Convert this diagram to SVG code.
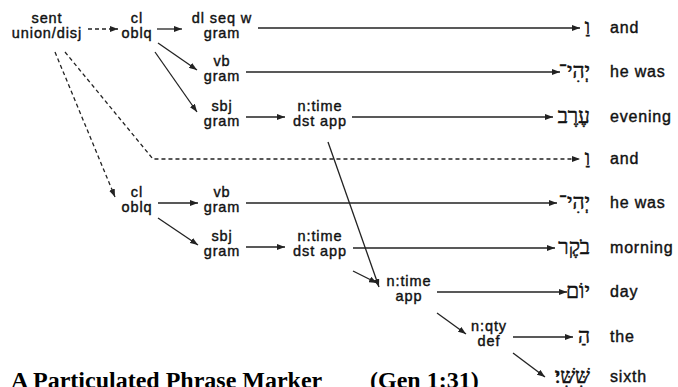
<svg xmlns="http://www.w3.org/2000/svg" width="678" height="387" viewBox="0 0 678 387">
<defs>
<marker id="ah" markerUnits="userSpaceOnUse" markerWidth="8" markerHeight="6" refX="8" refY="3" orient="auto">
<path d="M0,0 L8,3 L0,6 z" fill="#222"/>
</marker>
<style>
.n{font-family:"Liberation Sans",Arial,sans-serif;font-size:14.5px;letter-spacing:0.9px;fill:#111;stroke:#111;stroke-width:0.4px;text-anchor:middle}
.g{font-family:"Liberation Sans",Arial,sans-serif;font-size:16px;letter-spacing:0.8px;fill:#111;stroke:#111;stroke-width:0.4px}
.h{font-family:"Liberation Serif","DejaVu Serif",serif;font-size:21px;fill:#111;stroke:#111;stroke-width:0.5px;text-anchor:end}
.c{stroke:#222;stroke-width:1.3;fill:none;marker-end:url(#ah)}
.d{stroke-dasharray:4,3}
.cap{font-family:"Liberation Serif","Times New Roman",serif;font-size:24px;font-weight:bold;fill:#000}
</style>
</defs>
<rect width="678" height="387" fill="#fff"/>
<g id="connectors">
<path class="c d" d="M88,29 L118,29"/>
<path class="c d" d="M55,52 L115,197"/>
<path class="c d" d="M65,52 L153,159 L580,159"/>
<path class="c" d="M157,29 L182,29"/>
<path class="c" d="M158,43 L197,70"/>
<path class="c" d="M155,52 L197,112"/>
<path class="c" d="M258,28 L580,28"/>
<path class="c" d="M246,72 L560,72"/>
<path class="c" d="M246,117 L285,117"/>
<path class="c" d="M352,117 L553,117"/>
<path class="c" d="M158,203 L198,203"/>
<path class="c" d="M158,218 L198,245"/>
<path class="c" d="M246,203 L557,203"/>
<path class="c" d="M246,247 L285,247"/>
<path class="c" d="M353,248 L555,248"/>
<path class="c" d="M328,142 L379,287"/>
<path class="c" d="M353,271 L377,283"/>
<path class="c" d="M437,292 L567,292"/>
<path class="c" d="M437,313 L466,334"/>
<path class="c" d="M513,337 L573,337"/>
<path class="c" d="M513,353 L545,377"/>
</g>
<g id="n-sent"><text class="n" x="47" y="23">sent<tspan x="47" y="38">union/disj</tspan></text></g>
<g id="n-cl1"><text class="n" x="137" y="23">cl<tspan x="137" y="38">oblq</tspan></text></g>
<g id="n-dlseq"><text class="n" x="222" y="23">dl seq w<tspan x="222" y="38">gram</tspan></text></g>
<g id="n-vb1"><text class="n" x="222" y="66">vb<tspan x="222" y="81">gram</tspan></text></g>
<g id="n-sbj1"><text class="n" x="222" y="111">sbj<tspan x="222" y="126">gram</tspan></text></g>
<g id="n-ntime1"><text class="n" x="320" y="111">n:time<tspan x="320" y="126">dst app</tspan></text></g>
<g id="n-cl2"><text class="n" x="137" y="197">cl<tspan x="137" y="212">oblq</tspan></text></g>
<g id="n-vb2"><text class="n" x="222" y="197">vb<tspan x="222" y="212">gram</tspan></text></g>
<g id="n-sbj2"><text class="n" x="222" y="241">sbj<tspan x="222" y="256">gram</tspan></text></g>
<g id="n-ntime2"><text class="n" x="320" y="241">n:time<tspan x="320" y="256">dst app</tspan></text></g>
<g id="n-ntime3"><text class="n" x="409" y="286">n:time<tspan x="409" y="301">app</tspan></text></g>
<g id="n-nqty"><text class="n" x="489" y="331">n:qty<tspan x="489" y="346">def</tspan></text></g>
<g id="w1"><text class="h" x="590" y="34">וַ</text><text class="g" x="610" y="33">and</text></g>
<g id="w2"><text class="h" x="590" y="78">יְהִי־</text><text class="g" x="610" y="77">he was</text></g>
<g id="w3"><text class="h" x="590" y="123">עֶרֶב</text><text class="g" x="610" y="122">evening</text></g>
<g id="w4"><text class="h" x="590" y="165">וַ</text><text class="g" x="610" y="164">and</text></g>
<g id="w5"><text class="h" x="590" y="209">יְהִי־</text><text class="g" x="610" y="208">he was</text></g>
<g id="w6"><text class="h" x="590" y="254">בֹקֶר</text><text class="g" x="610" y="253">morning</text></g>
<g id="w7"><text class="h" x="590" y="298">יוֹם</text><text class="g" x="610" y="297">day</text></g>
<g id="w8"><text class="h" x="590" y="343">הַ</text><text class="g" x="610" y="342">the</text></g>
<g id="w9"><text class="h" x="590" y="383">שִּׁשִּׁי׃</text><text class="g" x="610" y="382">sixth</text></g>
<text class="cap" x="11" y="388">A Particulated Phrase Marker<tspan x="370">(Gen 1:31)</tspan></text>
</svg>
